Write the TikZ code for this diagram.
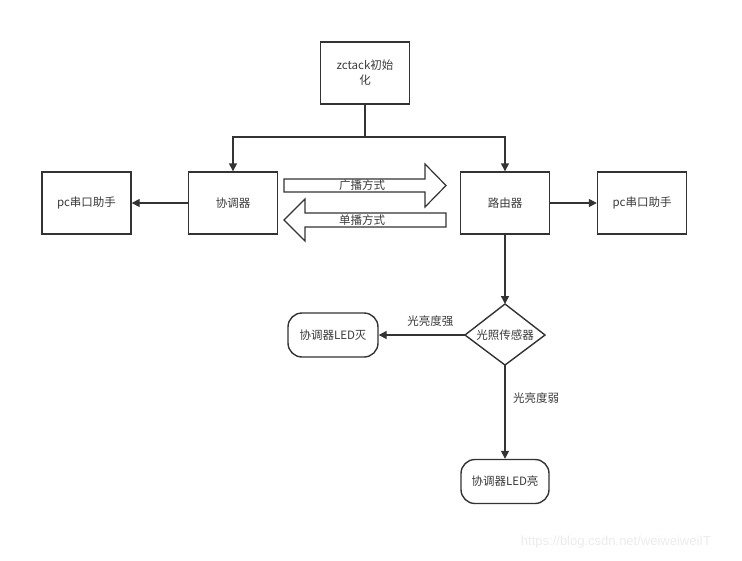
\documentclass[tikz,border=0pt]{standalone}
\usepackage{fontspec}
\setmainfont{Noto Sans CJK SC}
\newfontfamily\markfont{Liberation Sans}
\usetikzlibrary{arrows.meta}
\definecolor{linegray}{HTML}{333333}
\definecolor{textgray}{HTML}{3A3A3A}

\begin{document}
\begin{tikzpicture}
		[x=1pt, y=-1pt,
		font=\fontsize{11.5}{15}\selectfont,
		line width=1.4pt,
		>={Triangle[length=8pt,width=8pt]}
		]
		
		% Three node styles: plain box, rounded box and diamond
		\tikzstyle{plain box}=[rectangle,draw=linegray,text=textgray,inner sep=0,minimum width=89pt,minimum height=62pt];
		\tikzstyle{round box}=[rectangle,rounded corners=14pt,draw=linegray,text=textgray,inner sep=0,minimum width=90pt,minimum height=44pt];
		\tikzstyle{label}=[text=textgray,inner sep=0];
		\tikzstyle{link}=[draw=linegray,->];
		
		\useasboundingbox (0,0) rectangle (742,560);
		
		% The boxes
		\node(init)[plain box,align=center] at (365,73) {zctack初始\\化};
		\node(coord)[plain box] at (233,203) {协调器};
		\node(pcleft)[plain box] at (86.5,203) {pc串口助手};
		\node(router)[plain box] at (505,203) {路由器};
		\node(pcright)[plain box] at (642,203) {pc串口助手};
		
		% Sensor and LEDs
		\path[draw=linegray,fill=white] (505,304) -- (545,335) -- (505,365) -- (465,335) -- cycle;
		\node(sensor)[label] at (505,335) {光照传感器};
		\coordinate(sensor-n) at (505,304);
		\coordinate(sensor-s) at (505,365);
		\coordinate(sensor-w) at (465,335);
		\node(ledoff)[round box] at (333,335) {协调器LED灭};
		\node(ledon)[round box,minimum width=88pt] at (505,481.5) {协调器LED亮};
		
		% Start up
		\coordinate(split) at (365,137);
		\draw[draw=linegray] (init.south) -- (split);
		\foreach \n in {coord, router} \draw[link] (split) -| (\n.north);
		
		% Serial output
		\draw[link] (coord.west) -- (pcleft.east);
		\draw[link] (router.east) -- (pcright.west);
		
		% Broadcast and unicast
		\draw[draw=linegray,line width=1.2pt] (284,179) -- (425,179) -- (425,164) -- (446,185.5) -- (425,207) -- (425,192) -- (284,192) -- cycle;
		\node(bcast)[label] at (362,185.5) {广播方式};
		\draw[draw=linegray,line width=1.2pt] (446,213) -- (305,213) -- (305,199) -- (284,220) -- (305,241) -- (305,227) -- (446,227) -- cycle;
		\node(ucast)[label] at (362,220) {单播方式};
		
		% Light level
		\draw[link] (router.south) -- (sensor-n);
		\draw[link] (sensor-w) -- node[label,pos=0.4,yshift=14pt]{光亮度强} (ledoff.east);
		\draw[link] (sensor-s) -- node[label,pos=0.35,xshift=31pt]{光亮度弱} (ledon.north);
		
		% Watermark
		\node(mark)[inner sep=0,text=black!8,font=\markfont\fontsize{13}{15}\selectfont] at (616,542) {https://blog.csdn.net/weiweiweiIT};
		\end{tikzpicture}
\end{document}
